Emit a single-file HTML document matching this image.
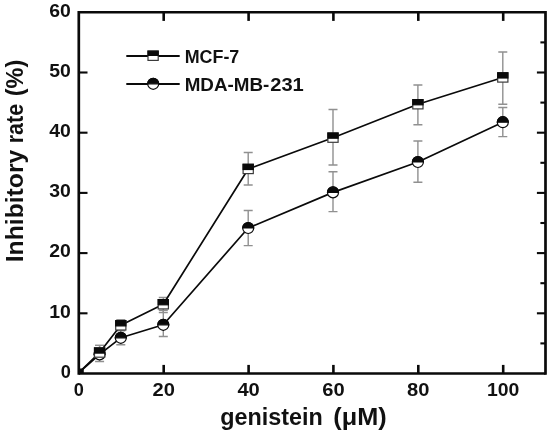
<!DOCTYPE html>
<html lang="en">
<head>
<meta charset="utf-8">
<title>Inhibitory rate vs genistein</title>
<style>
html,body{margin:0;padding:0;background:#fff;}
body{width:550px;height:433px;overflow:hidden;}
svg{display:block;}
text{font-family:"Liberation Sans",sans-serif;font-weight:bold;fill:#111;}
.tick{font-size:18.4px;}
.ttl{font-size:23.5px;}
.leg{font-size:18.5px;}
</style>
</head>
<body>
<svg width="550" height="433" viewBox="0 0 550 433">
<rect x="0" y="0" width="550" height="433" fill="#ffffff"/>
<path d="M78.8 11.1V374.7M545.5 11.1V374.7" fill="none" stroke="#0a0a0a" stroke-width="2.7"/>
<path d="M78.8 12.3H545.5M78.8 373.5H545.5" fill="none" stroke="#0a0a0a" stroke-width="2.4"/>
<g stroke="#0a0a0a" stroke-width="2.6" fill="none">
<line x1="163.7" y1="373.5" x2="163.7" y2="364.9"/><line x1="163.7" y1="12.3" x2="163.7" y2="20.9"/>
<line x1="248.6" y1="373.5" x2="248.6" y2="364.9"/><line x1="248.6" y1="12.3" x2="248.6" y2="20.9"/>
<line x1="333.4" y1="373.5" x2="333.4" y2="364.9"/><line x1="333.4" y1="12.3" x2="333.4" y2="20.9"/>
<line x1="418.3" y1="373.5" x2="418.3" y2="364.9"/><line x1="418.3" y1="12.3" x2="418.3" y2="20.9"/>
<line x1="503.2" y1="373.5" x2="503.2" y2="364.9"/><line x1="503.2" y1="12.3" x2="503.2" y2="20.9"/>
</g>
<g stroke="#0a0a0a" stroke-width="2.1" fill="none">
<line x1="78.8" y1="313.3" x2="87.5" y2="313.3"/><line x1="545.5" y1="313.3" x2="536.9" y2="313.3"/>
<line x1="78.8" y1="253.1" x2="87.5" y2="253.1"/><line x1="545.5" y1="253.1" x2="536.9" y2="253.1"/>
<line x1="78.8" y1="192.9" x2="87.5" y2="192.9"/><line x1="545.5" y1="192.9" x2="536.9" y2="192.9"/>
<line x1="78.8" y1="132.7" x2="87.5" y2="132.7"/><line x1="545.5" y1="132.7" x2="536.9" y2="132.7"/>
<line x1="78.8" y1="72.5" x2="87.5" y2="72.5"/><line x1="545.5" y1="72.5" x2="536.9" y2="72.5"/>
<line x1="545.5" y1="343.4" x2="540.4" y2="343.4"/>
<line x1="545.5" y1="283.2" x2="540.4" y2="283.2"/>
<line x1="545.5" y1="223.0" x2="540.4" y2="223.0"/>
<line x1="545.5" y1="162.8" x2="540.4" y2="162.8"/>
<line x1="545.5" y1="102.6" x2="540.4" y2="102.6"/>
<line x1="545.5" y1="42.4" x2="540.4" y2="42.4"/>
</g>
<g stroke="#909090" stroke-width="1.4" fill="none">
<path d="M99.6 345.4V361.5M95.1 345.4H104.1M95.1 361.5H104.1"/>
<path d="M120.8 330.7V344.7M116.3 330.7H125.3M116.3 344.7H125.3"/>
<path d="M163.3 310.3V336.5M158.8 310.3H167.8M158.8 336.5H167.8"/>
<path d="M248.2 210.5V245.6M243.7 210.5H252.7M243.7 245.6H252.7"/>
<path d="M333.0 171.7V211.6M328.5 171.7H337.5M328.5 211.6H337.5"/>
<path d="M417.9 141V182.2M413.4 141H422.4M413.4 182.2H422.4"/>
<path d="M502.8 107.5V136.6M498.3 107.5H507.3M498.3 136.6H507.3"/>
<path d="M99.6 345.4V357.8M95.1 345.4H104.1M95.1 357.8H104.1"/>
<path d="M120.8 319.8V330.3M116.3 319.8H125.3M116.3 330.3H125.3"/>
<path d="M163.3 297.5V312.5M158.8 297.5H167.8M158.8 312.5H167.8"/>
<path d="M248.2 152.5V185M243.7 152.5H252.7M243.7 185H252.7"/>
<path d="M333.0 109.5V165.0M328.5 109.5H337.5M328.5 165.0H337.5"/>
<path d="M417.9 85.0V124.7M413.4 85.0H422.4M413.4 124.7H422.4"/>
<path d="M502.8 52.0V104.2M498.3 52.0H507.3M498.3 104.2H507.3"/>
</g>
<polyline points="78.4,373.0 99.6,354.4 120.8,337.8 163.3,324.8 248.2,228.0 333.0,192.4 417.9,162.0 502.8,122.2" fill="none" stroke="#0a0a0a" stroke-width="1.7" stroke-linejoin="round"/>
<polyline points="78.4,373.0 99.6,352.5 120.8,325.3 163.3,304.2 248.2,169.0 333.0,137.7 417.9,104.3 502.8,77.5" fill="none" stroke="#0a0a0a" stroke-width="1.7" stroke-linejoin="round"/>
<rect x="78.8" y="368.5" width="5" height="5" fill="#0a0a0a"/>
<circle cx="99.6" cy="354.4" r="5.5" fill="#fff" stroke="#0a0a0a" stroke-width="1.2"/><path d="M94.1 354.4A5.5 5.5 0 0 1 105.1 354.4Z" fill="#0a0a0a" stroke="#0a0a0a" stroke-width="1.2"/>
<circle cx="120.8" cy="337.8" r="5.5" fill="#fff" stroke="#0a0a0a" stroke-width="1.2"/><path d="M115.3 337.8A5.5 5.5 0 0 1 126.3 337.8Z" fill="#0a0a0a" stroke="#0a0a0a" stroke-width="1.2"/>
<circle cx="163.3" cy="324.8" r="5.5" fill="#fff" stroke="#0a0a0a" stroke-width="1.2"/><path d="M157.8 324.8A5.5 5.5 0 0 1 168.8 324.8Z" fill="#0a0a0a" stroke="#0a0a0a" stroke-width="1.2"/>
<circle cx="248.2" cy="228.0" r="5.5" fill="#fff" stroke="#0a0a0a" stroke-width="1.2"/><path d="M242.7 228.0A5.5 5.5 0 0 1 253.7 228.0Z" fill="#0a0a0a" stroke="#0a0a0a" stroke-width="1.2"/>
<circle cx="333.0" cy="192.4" r="5.5" fill="#fff" stroke="#0a0a0a" stroke-width="1.2"/><path d="M327.5 192.4A5.5 5.5 0 0 1 338.5 192.4Z" fill="#0a0a0a" stroke="#0a0a0a" stroke-width="1.2"/>
<circle cx="417.9" cy="162.0" r="5.5" fill="#fff" stroke="#0a0a0a" stroke-width="1.2"/><path d="M412.4 162.0A5.5 5.5 0 0 1 423.4 162.0Z" fill="#0a0a0a" stroke="#0a0a0a" stroke-width="1.2"/>
<circle cx="502.8" cy="122.2" r="5.5" fill="#fff" stroke="#0a0a0a" stroke-width="1.2"/><path d="M497.3 122.2A5.5 5.5 0 0 1 508.3 122.2Z" fill="#0a0a0a" stroke="#0a0a0a" stroke-width="1.2"/>
<rect x="94.5" y="347.9" width="10.2" height="9.3" fill="#fff" stroke="#3c3c3c" stroke-width="1.2"/><rect x="94.5" y="347.9" width="10.2" height="5.2" fill="#0a0a0a" stroke="#0a0a0a" stroke-width="1.2"/>
<rect x="115.7" y="320.7" width="10.2" height="9.3" fill="#fff" stroke="#3c3c3c" stroke-width="1.2"/><rect x="115.7" y="320.7" width="10.2" height="5.2" fill="#0a0a0a" stroke="#0a0a0a" stroke-width="1.2"/>
<rect x="158.2" y="299.6" width="10.2" height="9.3" fill="#fff" stroke="#3c3c3c" stroke-width="1.2"/><rect x="158.2" y="299.6" width="10.2" height="5.2" fill="#0a0a0a" stroke="#0a0a0a" stroke-width="1.2"/>
<rect x="243.1" y="164.3" width="10.2" height="9.3" fill="#fff" stroke="#3c3c3c" stroke-width="1.2"/><rect x="243.1" y="164.3" width="10.2" height="5.2" fill="#0a0a0a" stroke="#0a0a0a" stroke-width="1.2"/>
<rect x="327.9" y="133.0" width="10.2" height="9.3" fill="#fff" stroke="#3c3c3c" stroke-width="1.2"/><rect x="327.9" y="133.0" width="10.2" height="5.2" fill="#0a0a0a" stroke="#0a0a0a" stroke-width="1.2"/>
<rect x="412.8" y="99.6" width="10.2" height="9.3" fill="#fff" stroke="#3c3c3c" stroke-width="1.2"/><rect x="412.8" y="99.6" width="10.2" height="5.2" fill="#0a0a0a" stroke="#0a0a0a" stroke-width="1.2"/>
<rect x="497.7" y="72.8" width="10.2" height="9.3" fill="#fff" stroke="#3c3c3c" stroke-width="1.2"/><rect x="497.7" y="72.8" width="10.2" height="5.2" fill="#0a0a0a" stroke="#0a0a0a" stroke-width="1.2"/>
<line x1="126.3" y1="56" x2="179.7" y2="56" stroke="#0a0a0a" stroke-width="1.9"/>
<rect x="148.0" y="51.1" width="10.2" height="9.3" fill="#fff" stroke="#3a3a3a" stroke-width="1.2"/><rect x="148.0" y="51.1" width="10.2" height="4.3" fill="#0a0a0a" stroke="#0a0a0a" stroke-width="1.2"/>
<line x1="126.3" y1="84" x2="179.7" y2="84" stroke="#0a0a0a" stroke-width="1.9"/>
<circle cx="153.2" cy="83.8" r="5.5" fill="#fff" stroke="#0a0a0a" stroke-width="1.2"/><path d="M147.7 83.8A5.5 5.5 0 0 1 158.7 83.8Z" fill="#0a0a0a" stroke="#0a0a0a" stroke-width="1.2"/>
<text class="leg" x="184.7" y="63.3" textLength="54.6" lengthAdjust="spacingAndGlyphs">MCF-7</text>
<text class="leg" y="90.6"><tspan x="184.7" textLength="84.6" lengthAdjust="spacingAndGlyphs">MDA-MB-</tspan><tspan x="270.2" textLength="33.6" lengthAdjust="spacingAndGlyphs">231</tspan></text>
<text class="tick" x="60.7" y="377.7" textLength="10.1" lengthAdjust="spacingAndGlyphs">0</text>
<text class="tick" x="49.2" y="317.5" textLength="21.6" lengthAdjust="spacingAndGlyphs">10</text>
<text class="tick" x="49.2" y="257.3" textLength="21.6" lengthAdjust="spacingAndGlyphs">20</text>
<text class="tick" x="49.2" y="197.1" textLength="21.6" lengthAdjust="spacingAndGlyphs">30</text>
<text class="tick" x="49.2" y="136.9" textLength="21.6" lengthAdjust="spacingAndGlyphs">40</text>
<text class="tick" x="49.2" y="76.7" textLength="21.6" lengthAdjust="spacingAndGlyphs">50</text>
<text class="tick" x="49.2" y="16.5" textLength="21.6" lengthAdjust="spacingAndGlyphs">60</text>
<text class="tick" x="73.8" y="396" textLength="10.1" lengthAdjust="spacingAndGlyphs">0</text>
<text class="tick" x="152.5" y="396" textLength="22.4" lengthAdjust="spacingAndGlyphs">20</text>
<text class="tick" x="237.4" y="396" textLength="22.4" lengthAdjust="spacingAndGlyphs">40</text>
<text class="tick" x="322.2" y="396" textLength="22.4" lengthAdjust="spacingAndGlyphs">60</text>
<text class="tick" x="407.1" y="396" textLength="22.4" lengthAdjust="spacingAndGlyphs">80</text>
<text class="tick" x="487.0" y="396" textLength="32.4" lengthAdjust="spacingAndGlyphs">100</text>
<text class="ttl" y="425"><tspan x="220.2" textLength="102.6" lengthAdjust="spacingAndGlyphs">genistein</tspan> <tspan x="333.3" textLength="53.4" lengthAdjust="spacingAndGlyphs">(μM)</tspan></text>
<text class="ttl" transform="translate(22.7 262.3) rotate(-90)" y="0"><tspan x="0" textLength="112.6" lengthAdjust="spacingAndGlyphs">Inhibitory</tspan> <tspan x="119" textLength="39.4" lengthAdjust="spacingAndGlyphs">rate</tspan> <tspan x="166.1" textLength="36.4" lengthAdjust="spacingAndGlyphs">(%)</tspan></text>
</svg>
</body>
</html>
